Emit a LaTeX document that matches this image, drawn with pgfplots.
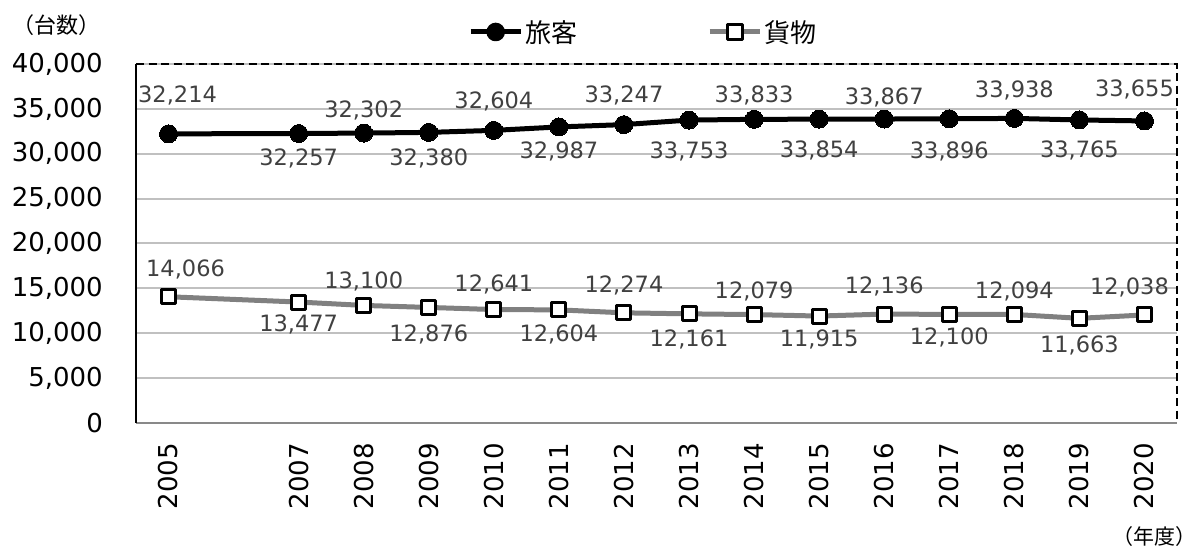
\documentclass[border=0pt]{standalone}
\usepackage{pgfplots}
\pgfplotsset{compat=1.18}
\usepackage{pgfplotstable}
\usepackage{fontspec}
\setmainfont{DejaVu Sans}
\newfontfamily\jp{Noto Sans CJK JP}
\definecolor{gridc}{HTML}{C0C0C0}
\definecolor{labc}{HTML}{404040}
\definecolor{freight}{HTML}{808080}
\definecolor{botc}{HTML}{898989}

\pgfplotstableread{
x y dx dy
2005 32214 9 38
2007 32257 0 -25
2008 32302 0 23
2009 32380 0 -26
2010 32604 0 29
2011 32987 0 -25
2012 33247 0 29
2013 33753 0 -31
2014 33833 0 24
2015 33854 0 -31
2016 33867 0 22
2017 33896 0 -33
2018 33938 0 28
2019 33765 0 -30
2020 33655 -10 31
}\passenger

\pgfplotstableread{
x y dx dy
2005 14066 17 27
2007 13477 0 -22
2008 13100 0 24
2009 12876 0 -27
2010 12641 0 25
2011 12604 0 -25
2012 12274 0 27
2013 12161 0 -26
2014 12079 0 23
2015 11915 0 -23
2016 12136 0 28
2017 12100 0 -23
2018 12094 0 23
2019 11663 0 -27
2020 12038 -15 27
}\freighttab

\begin{document}
\begin{tikzpicture}
\useasboundingbox (0pt,0pt) rectangle (1197pt,546pt);
\begin{axis}[
  at={(136pt,123pt)}, anchor=south west,
  scale only axis, width=1041pt, height=359pt,
  xmin=2004.5, xmax=2020.5, ymin=0, ymax=40000,
  xtick={2005,2007,2008,2009,2010,2011,2012,2013,2014,2015,2016,2017,2018,2019,2020},
  ytick={0,5000,10000,15000,20000,25000,30000,35000,40000},
  scaled y ticks=false,
  /pgf/number format/1000 sep={,},
  /pgf/number format/assume math mode=true,
  x tick label style={/pgf/number format/1000 sep={}},
  tick label style={font=\fontsize{26}{30}\selectfont, text=black},
  yticklabel style={anchor=east, inner sep=0pt, xshift=-33pt},
  xticklabel style={rotate=90, anchor=east, inner sep=0pt, xshift=-20pt},
  major tick length=0pt,
  axis x line*=bottom, axis y line*=left,
  x axis line style={botc, line width=2pt},
  y axis line style={black, line width=2.5pt},
  ymajorgrids, major grid style={gridc, line width=2pt},
  clip=false,
  legend columns=2,
  legend cell align=left,
  legend style={draw=none, fill=none, at={(axis description cs:0,1)}, anchor=west,
    xshift=332pt, yshift=32pt, font=\jp\fontsize{26}{30}\selectfont,
    /tikz/every even column/.append style={column sep=128pt},
    inner sep=0pt, nodes={inner sep=2pt}},
]
\addplot[color=black, line width=5pt, line join=round, mark=*, mark size=9pt,
  mark options={fill=black, draw=black, line width=0pt},
  nodes near coords,
  visualization depends on={\thisrow{dx} \as \dx},
  visualization depends on={\thisrow{dy} \as \dy},
  every node near coord/.append style={anchor=center, xshift=\dx*1pt, yshift=\dy*1pt,
    text=labc, font=\fontsize{22.5}{26}\selectfont, inner sep=0pt},
  legend image code/.code={\draw[black, line width=5pt] (0pt,0pt) -- (50pt,0pt);
    \fill[black] (25pt,0pt) circle (6.8pt);}
] table[x=x,y=y] {\passenger};
\addlegendentry{旅客}
\addplot[color=freight, line width=5pt, line join=round, mark=square*, mark size=7pt,
  mark options={fill=white, draw=black, line width=3pt},
  nodes near coords,
  visualization depends on={\thisrow{dx} \as \dx},
  visualization depends on={\thisrow{dy} \as \dy},
  every node near coord/.append style={anchor=center, xshift=\dx*1pt, yshift=\dy*1pt,
    text=labc, font=\fontsize{22.5}{26}\selectfont, inner sep=0pt},
  legend image code/.code={\draw[freight, line width=5pt] (0pt,0pt) -- (50pt,0pt);
    \draw[black, fill=white, line width=3pt] (17.5pt,-7.5pt) rectangle (32.5pt,7.5pt);}
] table[x=x,y=y] {\freighttab};
\addlegendentry{貨物}
\draw[black, line width=2.5pt, dash pattern=on 8pt off 4.5pt]
  (rel axis cs:0,1) -- (rel axis cs:1,1) -- (rel axis cs:1,0);
\end{axis}
\node[anchor=west, inner sep=0pt, font=\jp\fontsize{22}{26}\selectfont] at (12pt,521pt) {（台数）};
\node[anchor=east, inner sep=0pt, font=\jp\fontsize{21}{24}\selectfont] at (1197pt,9pt) {（年度）};
\end{tikzpicture}
\end{document}
